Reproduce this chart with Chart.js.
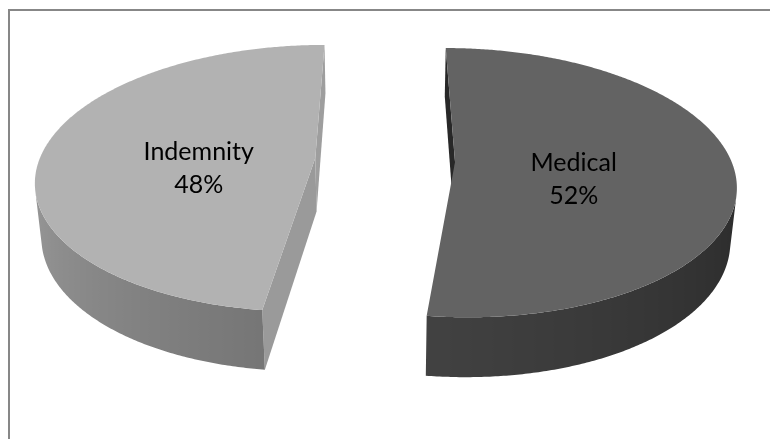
<!DOCTYPE html>
<html>
<head>
<meta charset="utf-8">
<script src="https://cdn.jsdelivr.net/npm/chart.js@4.4.1/dist/chart.umd.min.js"></script>
<style>
  html, body { margin: 0; padding: 0; background: #fff; }
  #wrap { width: 770px; height: 439px; }
</style>
</head>
<body>
<div id="wrap"><canvas id="chart"></canvas></div>
<script>
var categories = ['Medical', 'Indemnity'];
var shares = [52, 48];
var sliceColors = ['#636363', '#b2b2b2'];

// view of the tilted pie
var tilt = 28.3 * Math.PI / 180;   // eye elevation above the pie plane
var eyeDist = 1593;                // eye distance from the pie centre
var thickness = 62;                // height of the pie body
var explode = 70;                  // slice pull-out

function project(cx, cy, x, y, z) {
    var d = z * Math.cos(tilt) + y * Math.sin(tilt);
    var s = eyeDist / (eyeDist - d);
    return { x: cx + x * s, y: cy + (z * Math.sin(tilt) - y * Math.cos(tilt)) * s };
}

function shade(hex, f) {
    var n = parseInt(hex.slice(1), 16);
    var r = Math.round(((n >> 16) & 255) * f), g = Math.round(((n >> 8) & 255) * f), b = Math.round((n & 255) * f);
    return 'rgb(' + r + ',' + g + ',' + b + ')';
}

// light falls from the left on the rim, cut faces the other way round
function rimFactor(deg) {
    deg = Math.max(-30, Math.min(200, deg));
    return 0.40 + 0.0027 * deg;
}

function facing(nx, nz, px, py, pz) {
    var cx = 0, cy = eyeDist * Math.sin(tilt), cz = eyeDist * Math.cos(tilt);
    return nx * (cx - px) + nz * (cz - pz) > 0;
}

function fillPoly(ctx, pts, fill) {
    ctx.beginPath();
    ctx.moveTo(pts[0].x, pts[0].y);
    for (var i = 1; i < pts.length; i++) ctx.lineTo(pts[i].x, pts[i].y);
    ctx.closePath();
    ctx.fillStyle = fill;
    ctx.fill();
}

var pie3d = {
    id: 'pie3d',
    beforeDraw: function(chart) {
        var ctx = chart.ctx;
        ctx.save();
        ctx.fillStyle = '#fff';
        ctx.fillRect(0, 0, chart.width, chart.height);
        ctx.strokeStyle = '#878787';
        ctx.lineWidth = 2;
        ctx.strokeRect(9, 10, chart.width + 20, chart.height + 20);
        ctx.restore();
    },
    beforeDatasetsDraw: function(chart) {
        var ctx = chart.ctx;
        var meta = chart.getDatasetMeta(0);
        ctx.save();
        meta.data.forEach(function(arc) {
            var a1 = arc.startAngle, a2 = arc.endAngle, R = arc.outerRadius;
            var mid = (a1 + a2) / 2, off = arc.options.offset;
            var ox = Math.cos(mid) * off, oz = Math.sin(mid) * off;
            var col = arc.options.backgroundColor;
            var cx = arc.x, cy = arc.y, H = thickness;
            var P = function(t, y, r) {
                r = (r === undefined) ? R : r;
                return project(cx, cy, ox + r * Math.cos(t), y, oz + r * Math.sin(t));
            };

            // cut faces along the two radii
            [[a1, Math.sin(a1), -Math.cos(a1)], [a2, -Math.sin(a2), Math.cos(a2)]].forEach(function(f) {
                var t = f[0], nx = f[1], nz = f[2];
                var px = ox + R / 2 * Math.cos(t), pz = oz + R / 2 * Math.sin(t);
                if (!facing(nx, nz, px, -H / 2, pz)) return;
                var deg = Math.abs(Math.atan2(nz, nx) * 180 / Math.PI);
                fillPoly(ctx, [P(t, 0, 0), P(t, 0), P(t, -H), P(t, -H, 0)], shade(col, rimFactor(180 - deg)));
            });

            // outer rim: visible stretch as one band with a sideways gradient
            var n = Math.ceil((a2 - a1) / (Math.PI / 360));
            var run = [];
            for (var i = 0; i <= n; i++) {
                var t = a1 + (a2 - a1) * i / n;
                if (facing(Math.cos(t), Math.sin(t), ox + R * Math.cos(t), -H / 2, oz + R * Math.sin(t))) run.push(t);
            }
            if (run.length > 1) {
                var top = run.map(function(t) { return P(t, 0); });
                var bot = run.map(function(t) { return P(t, -H); }).reverse();
                var xs = top.map(function(p) { return p.x; });
                var x0 = Math.min.apply(null, xs), x1 = Math.max.apply(null, xs);
                var grad = ctx.createLinearGradient(x0, 0, x1, 0);
                run.forEach(function(t, j) {
                    var pos = (top[j].x - x0) / Math.max(1, x1 - x0);
                    grad.addColorStop(Math.min(1, Math.max(0, pos)), shade(col, rimFactor(t * 180 / Math.PI)));
                });
                fillPoly(ctx, top.concat(bot), grad);
            }

            // top face
            var pts = [P(0, 0, 0)];
            for (var k = 0; k <= n; k++) pts.push(P(a1 + (a2 - a1) * k / n, 0));
            fillPoly(ctx, pts, col);
        });
        ctx.restore();
        return false;
    },
    afterDraw: function(chart) {
        var ctx = chart.ctx;
        var meta = chart.getDatasetMeta(0);
        var total = shares.reduce(function(s, v) { return s + v; }, 0);
        ctx.save();
        ctx.font = '25px Lato';
        ctx.fillStyle = '#000';
        ctx.textAlign = 'center';
        ctx.textBaseline = 'middle';
        meta.data.forEach(function(arc, idx) {
            var mid = (arc.startAngle + arc.endAngle) / 2, off = arc.options.offset;
            var r = off + arc.outerRadius * 0.43;
            var p = project(arc.x, arc.y, Math.cos(mid) * r, -thickness / 4, Math.sin(mid) * r);
            var pct = Math.round(shares[idx] / total * 100) + '%';
            ctx.fillText(categories[idx], p.x, p.y - 16.5);
            ctx.fillText(pct, p.x, p.y + 16.5);
        });
        ctx.restore();
    }
};

new Chart(document.getElementById('chart').getContext('2d'), {
    type: 'pie',
    data: {
        labels: categories,
        datasets: [{
            data: shares,
            backgroundColor: sliceColors,
            borderWidth: 0,
            offset: explode
        }]
    },
    options: {
        responsive: true,
        maintainAspectRatio: false,
        animation: false,
        radius: 276,
        layout: { padding: { top: 0, bottom: 119 } },
        plugins: {
            legend: { display: false },
            tooltip: { enabled: false }
        }
    },
    plugins: [pie3d]
});
</script>
</body>
</html>
